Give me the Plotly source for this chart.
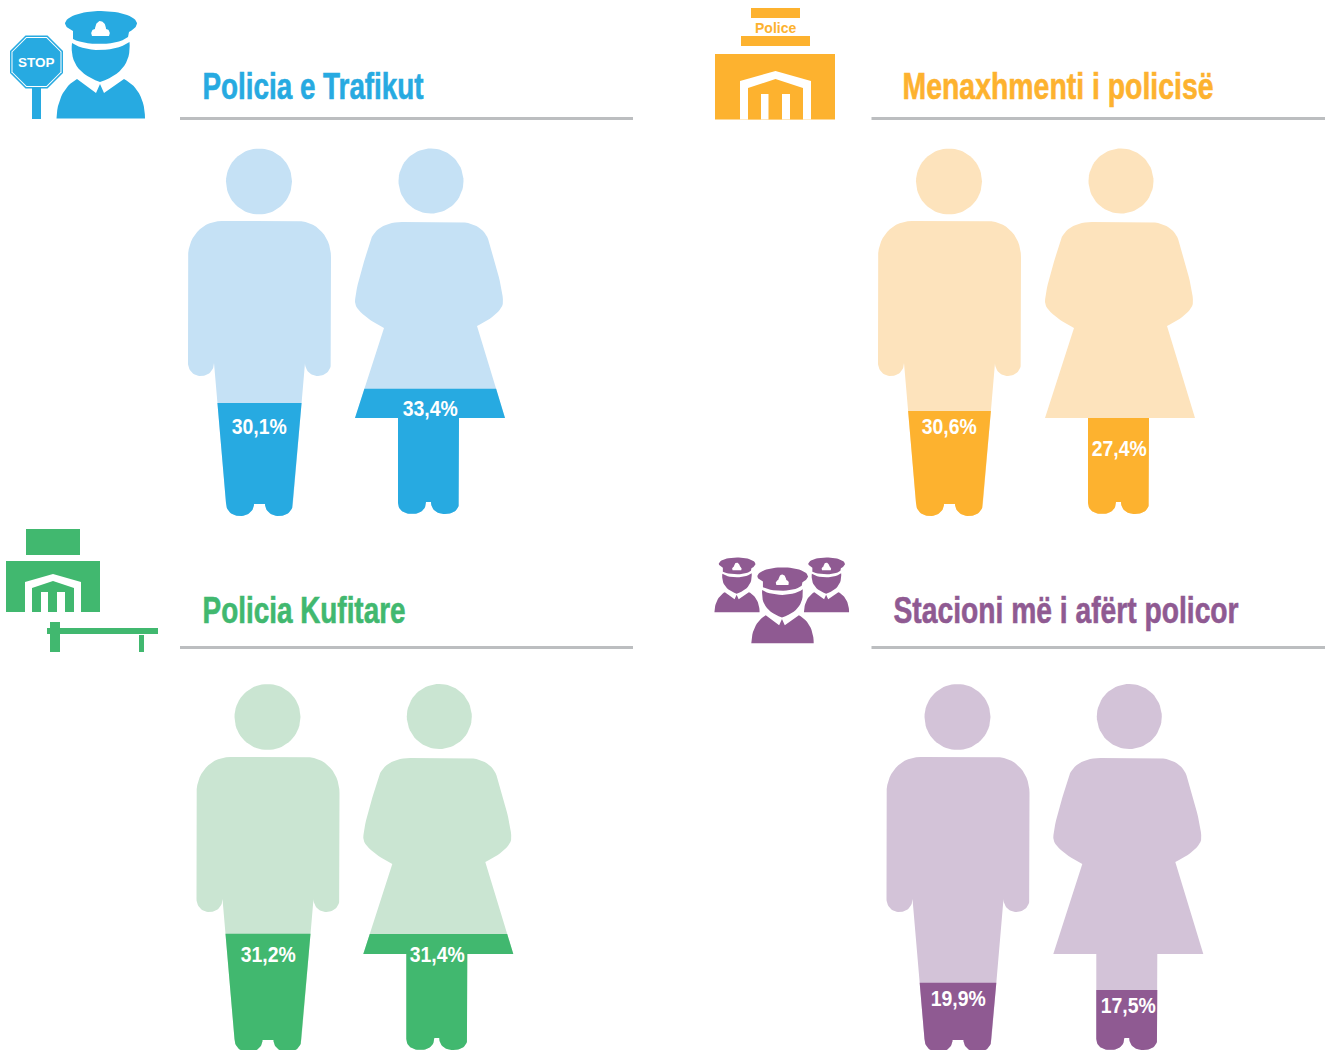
import math
import json
import plotly.graph_objects as go

# ---- data ----
titles = ["Policia e Trafikut", "Menaxhmenti i policisë", "Policia Kufitare", "Stacioni më i afërt policor"]
male_labels = ["30,1%", "30,6%", "31,2%", "19,9%"]
female_labels = ["33,4%", "27,4%", "31,4%", "17,5%"]
male_fill_pct = [30.7, 28.5, 32.1, 18.8]      # height of the figure that is coloured
female_fill_pct = [34.2, 26.2, 31.7, 16.4]
strong_colors = ["#27AAE1", "#FDB22F", "#41B86F", "#8F5A92"]
light_colors = ["#C5E1F5", "#FDE3BC", "#CAE5D2", "#D3C3D8"]
rule_color = "#BCBEC0"
FONT = "Liberation Sans"


def flatten(start, *segs, n=14):
    pts = [start]
    for s in segs:
        p0 = pts[-1]
        if len(s) == 1:
            pts.append(s[0])
        else:
            c1, c2, p3 = s
            for i in range(1, n + 1):
                t = i / n
                u = 1 - t
                pts.append((u**3*p0[0] + 3*u*u*t*c1[0] + 3*u*t*t*c2[0] + t**3*p3[0],
                            u**3*p0[1] + 3*u*u*t*c1[1] + 3*u*t*t*c2[1] + t**3*p3[1]))
    return pts


def clip_below(pts, level):
    out = []
    for i, a in enumerate(pts):
        b = pts[(i + 1) % len(pts)]
        ina, inb = a[1] >= level, b[1] >= level
        if ina:
            out.append(a)
        if ina != inb:
            t = (level - a[1]) / (b[1] - a[1])
            out.append((a[0] + t * (b[0] - a[0]), level))
    return out


def circle(cx, cy, r, n=72):
    return [(cx + r * math.cos(2 * math.pi * i / n), cy + r * math.sin(2 * math.pi * i / n)) for i in range(n)]


def rect(x0, y0, x1, y1):
    return [(x0, y0), (x1, y0), (x1, y1), (x0, y1)]


def shift(pts, dx, dy, s=1.0, ox=0.0, oy=0.0):
    return [((x - ox) * s + dx, (y - oy) * s + dy) for x, y in pts]


MALE = flatten((222, 221), [(297, 221)], [(318, 221), (331, 238), (331, 257)], [(331, 363)],
               [(331, 371), (325, 376), (318, 376)], [(311, 376), (305, 371), (305, 363)], [(293, 503)],
               [(293, 511), (287, 516), (279, 516)], [(271, 516), (265, 511), (265, 504)], [(254, 504)],
               [(254, 511), (248, 516), (240, 516)], [(232, 516), (226, 511), (226, 503)], [(214, 363)],
               [(214, 371), (208, 376), (201, 376)], [(194, 376), (188, 371), (188, 363)], [(188, 257)],
               [(188, 238), (201, 221), (222, 221)])
FEMALE = flatten((402, 222), [(458, 222)], [(475, 222), (486, 230), (489, 242)], [(496, 265), (503, 290), (503, 302)],
                 [(503, 311), (488, 321), (477, 326)], [(505, 418)], [(459, 418)], [(459, 503)],
                 [(459, 510), (453, 514), (445, 514)], [(437, 514), (431, 510), (431, 502)], [(426, 502)],
                 [(426, 510), (420, 514), (412, 514)], [(404, 514), (398, 510), (398, 503)], [(398, 418)],
                 [(355, 418)], [(384, 328)], [(372, 322), (355, 311), (355, 302)], [(355, 290), (363, 265), (370, 242)],
                 [(373, 230), (385, 222), (402, 222)])
FIG_TOP = 148.0

# officer icon parts (drawn in the reference's first-panel pixel frame)
OFF_CAP = flatten((65, 23), [(67, 15), (85, 11), (101, 11)], [(117, 11), (135, 15), (137, 23)],
                  [(137, 27), (133, 30), (129, 32)], [(128, 37)], [(118, 46), (86, 46), (73, 39)], [(73, 31)],
                  [(69, 29), (65, 27), (65, 23)])
OFF_BADGE = flatten((92, 36), [(90, 33), (92, 29), (95, 29)], [(95, 24), (98, 21), (100, 21)],
                    [(103, 21), (106, 24), (106, 29)], [(109, 29), (111, 33), (109, 36)])
OFF_FACE = flatten((72, 43), [(85, 52.5), (116, 52.5), (129.5, 42)], [(131, 60), (124, 74), (100, 82)],
                   [(77, 74), (70, 60), (72, 43)])
OFF_BODY = flatten((56.5, 118.5), [(57, 98), (66, 85), (77, 79)], [(96, 93)], [(100, 84)], [(104, 93)], [(124, 79)],
                   [(136, 85), (145, 98), (145, 118.5)])


def octagon(cx, cy, h):
    k = h * math.tan(math.pi / 8)
    return [(cx - k, cy - h), (cx + k, cy - h), (cx + h, cy - k), (cx + h, cy + k),
            (cx + k, cy + h), (cx - k, cy + h), (cx - h, cy + k), (cx - h, cy - k)]


fig = go.Figure()
squeeze = {}


def poly(pts, color):
    xs = [p[0] for p in pts] + [pts[0][0]]
    ys = [p[1] for p in pts] + [pts[0][1]]
    fig.add_trace(go.Scatter(x=xs, y=ys, mode="lines", fill="toself", fillcolor=color,
                             line=dict(width=0, color=color), hoverinfo="skip", showlegend=False))


def note(x, y, text, size, color, width=None):
    fig.add_annotation(x=x, y=y, xref="x", yref="y", text=f"<b>{text}</b>", showarrow=False,
                       xanchor="center", yanchor="middle", font=dict(family=FONT, size=size, color=color))
    if width:
        squeeze[text] = width


def officer(color, dx=0, dy=0, s=1.0):
    o = dict(dx=dx, dy=dy, s=s, ox=0 if s == 1 else 100.75, oy=0 if s == 1 else 65)
    poly(shift(OFF_CAP, **o), color)
    poly(shift(OFF_BADGE, **o), "#FFFFFF")
    poly(shift(OFF_FACE, **o), color)
    poly(shift(OFF_BODY, **o), color)


# panel offsets of the figures
male_dx = [0, 690, 8.5, 698.5]
female_dx = [0, 690, 8.3, 698.3]
fig_dy = [0, 0, 536, 536]
head_dy = [0, 0, 535.5, 535.5]
title_x = [313, 1058.3, 304.2, 1066.3]
title_width = [221, 311, 203, 345]
title_y = [86.3, 86.3, 610.3, 610.3]
rule_x = [(180, 633), (871.5, 1325), (180, 633), (871.5, 1325)]
rule_y = [118.5, 118.5, 647.5, 647.5]
male_label_y = [426, 426, 954, 998]
female_label_y = [408, 448, 954, 1005]
male_label_x = [259.2, 949.2, 267.5, 957.5]
female_label_x = [430, 1119, 437, 1128]

for i in range(4):
    dx_m, dx_f, dy = male_dx[i], female_dx[i], fig_dy[i]
    strong, light = strong_colors[i], light_colors[i]
    # male
    poly(circle(259 + dx_m, 181.5 + head_dy[i], 33), light)
    poly(shift(MALE, dx_m, dy), light)
    level = 516 - male_fill_pct[i] / 100 * (516 - FIG_TOP)
    poly(shift(clip_below(MALE, level), dx_m, dy), strong)
    note(male_label_x[i], male_label_y[i], male_labels[i], 22, "#FFFFFF", width=55)
    # female
    poly(circle(431 + dx_f, 181 + head_dy[i], 32.5), light)
    poly(shift(FEMALE, dx_f, dy), light)
    level = 514 - female_fill_pct[i] / 100 * (514 - FIG_TOP)
    poly(shift(clip_below(FEMALE, level), dx_f, dy), strong)
    note(female_label_x[i], female_label_y[i], female_labels[i], 22, "#FFFFFF", width=55)
    # heading and rule
    note(title_x[i], title_y[i], titles[i], 36, strong, width=title_width[i])
    poly(rect(rule_x[i][0], rule_y[i] - 1.5, rule_x[i][1], rule_y[i] + 1.5), rule_color)

# icon 1: officer with stop sign
c = strong_colors[0]
poly(rect(32, 88, 41, 119), c)
poly(octagon(36.5, 62, 26.5), c)
poly(octagon(36.5, 62, 25), "#FFFFFF")
poly(octagon(36.5, 62, 24), c)
note(36.5, 62, "STOP", 13.5, "#FFFFFF")
officer(c)

# icon 2: police building
c = strong_colors[1]
poly(rect(751, 8, 800, 18), c)
note(775.5, 28, "Police", 14, c)
poly(rect(741, 36, 810, 46), c)
poly(rect(715, 54, 835, 119.5), c)
poly([(740, 119.5), (740, 81), (775.5, 71), (811, 81), (811, 119.5)], "#FFFFFF")
poly([(748, 119.5), (748, 88), (775.5, 79), (803, 88), (803, 119.5)], c)
poly(rect(761, 94, 768.5, 119.5), "#FFFFFF")
poly(rect(782, 94, 790, 119.5), "#FFFFFF")

# icon 3: border post
c = strong_colors[2]
poly(rect(26, 529, 80, 555), c)
poly(rect(6, 561, 100, 612), c)
poly([(25, 612), (25, 582), (53, 574), (81, 582), (81, 612)], "#FFFFFF")
poly([(32, 612), (32, 588), (53, 581), (74, 588), (74, 612)], c)
poly(rect(41, 592, 48, 612), "#FFFFFF")
poly(rect(57, 592, 65, 612), "#FFFFFF")
poly(rect(47, 628, 158, 634), c)
poly(rect(50, 622, 60, 652), c)
poly(rect(139, 635, 144, 652), c)

# icon 4: three officers
c = strong_colors[3]
officer(c, dx=737, dy=585, s=0.51)
officer(c, dx=826.5, dy=585, s=0.51)
officer(c, dx=782.5, dy=605.5, s=0.705)

fig.update_layout(
    width=1334, height=1050, margin=dict(l=0, r=0, t=0, b=0),
    paper_bgcolor="#FFFFFF", plot_bgcolor="#FFFFFF", showlegend=False,
    xaxis=dict(range=[0, 1334], visible=False, fixedrange=True),
    yaxis=dict(range=[1050, 0], visible=False, fixedrange=True),
)
# The reference's headings are set in a heavy condensed face; squeeze the real text to the measured widths.
js = """
document.body.style.margin='0';document.documentElement.style.overflow='hidden';
var w=%s;
document.querySelectorAll('text.annotation-text').forEach(function(t){
  var k=t.textContent; if(w[k]){t.setAttribute('textLength',w[k]);t.setAttribute('lengthAdjust','spacingAndGlyphs');
    if(w[k]>100){t.style.stroke=t.style.fill;t.style.strokeWidth='0.6px';}}
});
""" % json.dumps(squeeze, ensure_ascii=False)
fig.write_html("out.html", config={"displayModeBar": False}, post_script=js)
